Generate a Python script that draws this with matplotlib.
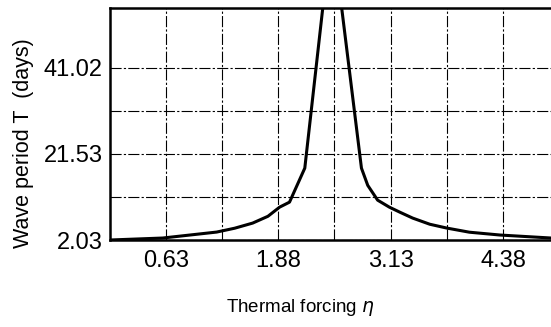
import matplotlib
matplotlib.use("Agg")
import matplotlib.pyplot as plt
import matplotlib.ticker as ticker

# curve (eta, period in days)
eta = [0.0, 0.59, 1.19, 1.39, 1.59, 1.76, 1.89, 2.00, 2.17, 2.47,
       2.80, 2.87, 2.98, 3.11, 3.23, 3.37, 3.56, 3.75, 4.0, 4.34, 4.91]
period = [2.03, 2.48, 3.83, 4.7, 5.86, 7.4, 9.47, 10.6, 18.3, 72.7,
          18.3, 14.4, 11.05, 9.47, 8.3, 6.99, 5.6, 4.73, 3.8, 3.16, 2.48]

x_ticks = [0.625, 1.875, 3.125, 4.375]
x_labels = ["0.63", "1.88", "3.13", "4.38"]
x_minor = [1.25, 2.5, 3.75]
y_ticks = [2.03, 21.53, 41.02]
y_labels = ["2.03", "21.53", "41.02"]
y_minor = [11.78, 31.27]

plt.rcParams['font.family'] = ['Liberation Sans', 'DejaVu Sans']

fig = plt.figure(figsize=(5.51, 3.27), dpi=100)
ax = fig.add_axes([0.199, 0.266, 0.803, 0.709])

ax.plot(eta, period, color='k', linewidth=2.2, solid_joinstyle='round')

ax.set_xlim(0, 4.92)
ax.set_ylim(2.03, 54.5)

ax.xaxis.set_major_locator(ticker.FixedLocator(x_ticks))
ax.xaxis.set_major_formatter(ticker.FixedFormatter(x_labels))
ax.xaxis.set_minor_locator(ticker.FixedLocator(x_minor))
ax.yaxis.set_major_locator(ticker.FixedLocator(y_ticks))
ax.yaxis.set_major_formatter(ticker.FixedFormatter(y_labels))
ax.yaxis.set_minor_locator(ticker.FixedLocator(y_minor))

ax.tick_params(which='both', length=0)
ax.tick_params(axis='x', labelsize=17, pad=7)
ax.tick_params(axis='y', labelsize=17, pad=5)

ax.grid(which='both', color='k', linewidth=0.8, linestyle=(0, (10, 2, 2, 2)))
ax.set_axisbelow(True)

for s in ['left', 'bottom', 'top']:
    ax.spines[s].set_linewidth(1.8)
ax.spines['right'].set_visible(False)

ax.set_ylabel("Wave period T  (days)", fontsize=15.5)
ax.yaxis.set_label_coords(-0.17, 0.42)
ax.set_xlabel("Thermal forcing $\\eta$", fontsize=13.5)
ax.xaxis.set_label_coords(0.43, -0.245)

fig.savefig("out.png", dpi=100)
